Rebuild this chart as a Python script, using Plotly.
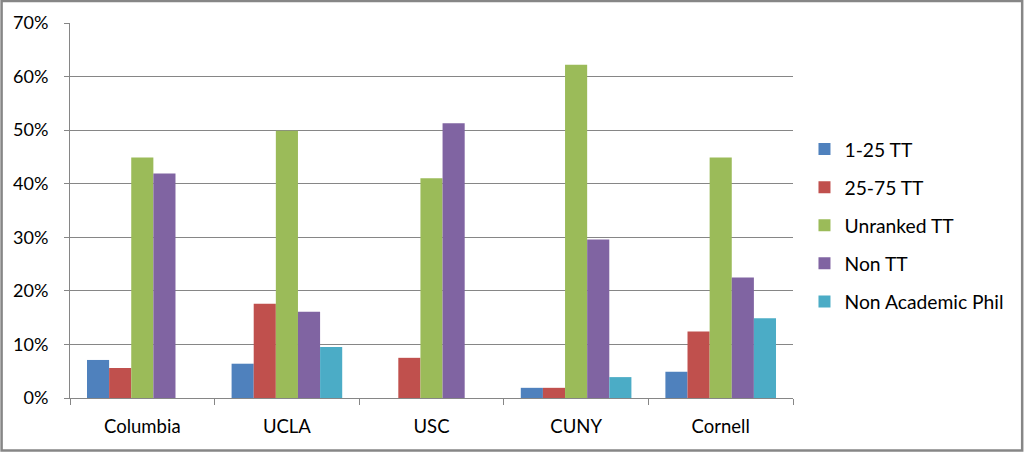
import plotly.graph_objects as go

categories = ["Columbia", "UCLA", "USC", "CUNY", "Cornell"]
series_names = ["1-25 TT", "25-75 TT", "Unranked TT", "Non TT", "Non Academic Phil"]
tt_1_25 = [0.071, 0.064, 0.0, 0.019, 0.049]
tt_25_75 = [0.056, 0.176, 0.075, 0.019, 0.124]
unranked_tt = [0.449, 0.499, 0.410, 0.622, 0.449]
non_tt = [0.419, 0.161, 0.513, 0.296, 0.225]
non_academic = [0.0, 0.095, 0.0, 0.039, 0.149]
values = [tt_1_25, tt_25_75, unranked_tt, non_tt, non_academic]
colors = ["#4F81BD", "#C0504D", "#9BBB59", "#8064A2", "#4BACC6"]

fig = go.Figure()
for name, vals, col in zip(series_names, values, colors):
    fig.add_trace(go.Bar(x=categories, y=vals, name=name, marker_color=col,
                         marker_line_width=0, legendgroup=name))

W, H = 1024, 452
ml, mr, mt, mb = 69.5, 230.5, 23, 54
pw, ph = W - ml - mr, H - mt - mb

fig.update_layout(
    width=W, height=H,
    margin=dict(l=ml, r=mr, t=mt, b=mb, autoexpand=False),
    paper_bgcolor="white", plot_bgcolor="white",
    barmode="group", bargap=0.235, bargroupgap=0,
    font=dict(family="Lato, Carlito, Calibri, sans-serif", color="#000000"),
    legend=dict(x=(805 - ml) / pw, y=0.46, xanchor="left", yanchor="middle",
                font=dict(size=19.3), tracegroupgap=10,
                bgcolor="rgba(0,0,0,0)"),
    showlegend=True,
)
fig.update_yaxes(range=[0, 0.7], dtick=0.1, tickformat=".0%",
                 showgrid=True, gridcolor="#868686", gridwidth=1,
                 showline=True, linecolor="#868686", linewidth=1,
                 ticks="outside", ticklen=5, tickcolor="#868686",
                 tickfont=dict(size=18), ticklabelstandoff=12, zeroline=False,
                 automargin=False)
fig.update_xaxes(showline=True, linecolor="#868686", linewidth=1,
                 ticks="outside", ticklen=6, tickcolor="#868686",
                 tickson="boundaries", tickfont=dict(size=18.5),
                 ticklabelstandoff=12, showgrid=False, automargin=False)

fig.add_shape(type="rect", xref="paper", yref="paper",
              x0=(1 - ml) / pw, x1=(W - 1 - ml) / pw,
              y0=(ph + mt - (H - 1.5)) / ph, y1=(ph + mt - 1) / ph,
              line=dict(color="#868686", width=2.5), fillcolor="rgba(0,0,0,0)",
              layer="below")

fig.write_html("out.html", config={"displayModeBar": False},
               post_script="document.body.style.margin='0';document.body.style.padding='0';document.body.style.overflow='hidden';")
